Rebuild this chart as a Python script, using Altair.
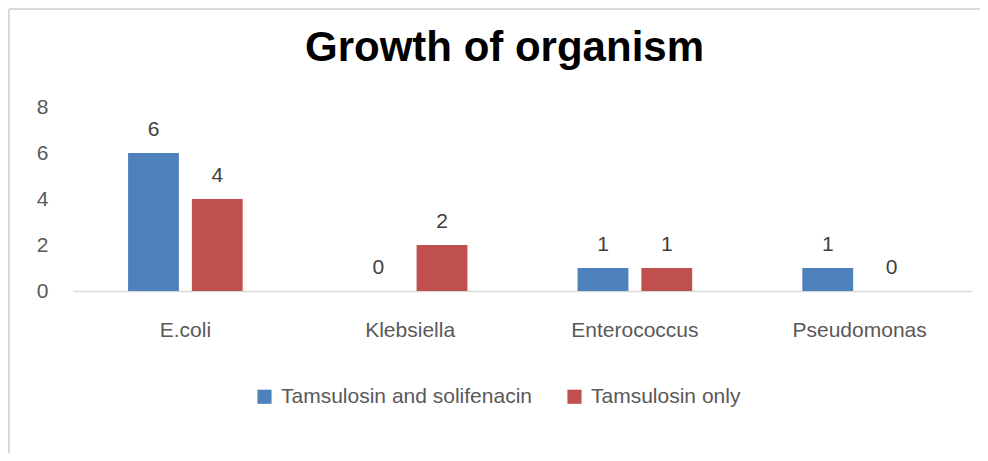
import altair as alt
import pandas as pd

categories = ["E.coli", "Klebsiella", "Enterococcus", "Pseudomonas"]
series_names = ["Tamsulosin and solifenacin", "Tamsulosin only"]
combo_values = [6, 0, 1, 1]
only_values = [4, 2, 1, 0]
colors = ["#4F81BD", "#C0504D"]

rows = []
for c, v in zip(categories, combo_values):
    rows.append({"organism": c, "group": series_names[0], "count": v})
for c, v in zip(categories, only_values):
    rows.append({"organism": c, "group": series_names[1], "count": v})
df = pd.DataFrame(rows)

FONT = "Liberation Sans"
W, H = 899, 184
PAD_L, PAD_T, PAD_R = 65, 99, 8
TOTAL_H = 445

x_enc = alt.X("organism:N", sort=categories, title=None,
              scale=alt.Scale(paddingInner=0.49, paddingOuter=0.245),
              axis=alt.Axis(labelAngle=0, labelFontSize=21, labelColor="#595959",
                            labelFont=FONT, labelPadding=28, ticks=False,
                            domainColor="#D9D9D9", domainWidth=1.5))
xoff = alt.XOffset("group:N", sort=series_names,
                   scale=alt.Scale(paddingInner=0.203, paddingOuter=0))
y_enc = alt.Y("count:Q", title=None,
              scale=alt.Scale(domain=[0, 8]),
              axis=alt.Axis(values=[0, 2, 4, 6, 8], labelFontSize=21, labelColor="#595959",
                            labelFont=FONT, labelPadding=25, ticks=False, domain=False,
                            grid=False))

base = alt.Chart(df)

bars = base.mark_bar().encode(
    x=x_enc, xOffset=xoff, y=y_enc,
    color=alt.Color("group:N", sort=series_names,
                    scale=alt.Scale(domain=series_names, range=colors),
                    legend=alt.Legend(title=None, orient="none", legendX=181, legendY=279,
                                      direction="horizontal", symbolType="square",
                                      symbolSize=200, symbolStrokeWidth=0,
                                      labelFontSize=21, labelColor="#595959",
                                      labelFont=FONT, labelLimit=0,
                                      columnPadding=32, labelOffset=6)),
)

labels = base.mark_text(baseline="alphabetic", dy=-17, fontSize=21,
                        font=FONT, color="#404040").encode(
    x=alt.X("organism:N", sort=categories), xOffset=xoff, y="count:Q",
    text="count:Q",
)

border = alt.Chart(alt.Data(values=[{}]))
left_line = border.mark_rule(color="#D9D9D9", strokeWidth=2).encode(
    x=alt.value(-64), y=alt.value(-98), y2=alt.value(TOTAL_H - PAD_T))
top_line = border.mark_rule(color="#D9D9D9", strokeWidth=2).encode(
    x=alt.value(-64), x2=alt.value(W + PAD_R), y=alt.value(-98))

chart = alt.layer(left_line, top_line, bars, labels).properties(
    width=W, height=H,
    autosize=alt.AutoSizeParams(type="none"),
    padding={"left": PAD_L, "top": PAD_T, "right": PAD_R, "bottom": TOTAL_H - PAD_T - H},
    title=alt.TitleParams("Growth of organism", font=FONT, fontSize=42, fontWeight="bold",
                          color="#000000", anchor="middle", frame="group",
                          baseline="alphabetic", offset=0, dx=-18, dy=95),
).configure_view(stroke=None)

chart.save("out.html", embed_options={"renderer": "svg", "actions": False})
